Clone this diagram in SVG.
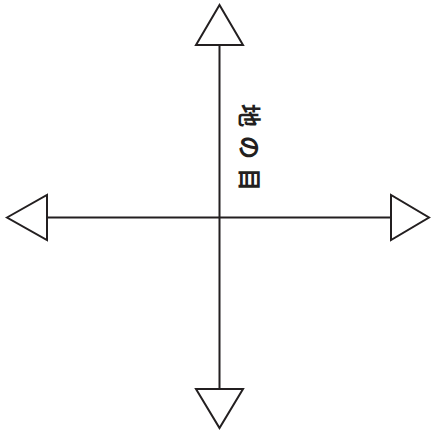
<svg xmlns="http://www.w3.org/2000/svg" width="431" height="430" viewBox="0 0 431 430">
<style>
.ln{stroke:#231f20;stroke-width:2;fill:none}
.ah{stroke:#231f20;stroke-width:2;fill:#fff;stroke-linejoin:miter}
.lbl{font-family:"Noto Sans CJK JP","Noto Sans CJK SC",sans-serif;font-size:23px;font-weight:700;fill:#231f20}
</style>
<rect width="431" height="430" fill="#fff"/>
<g id="connectors">
<line class="ln" x1="219.5" y1="45" x2="219.5" y2="389"/>
<line class="ln" x1="47" y1="217.5" x2="391" y2="217.5"/>
</g>
<g id="arrow-top"><polygon class="ah" points="219.5,5 196,45 243,45"/></g>
<g id="arrow-bottom"><polygon class="ah" points="196,389 243,389 219.5,428"/></g>
<g id="arrow-left"><polygon class="ah" points="7,217.5 47,195 47,240"/></g>
<g id="arrow-right"><polygon class="ah" points="391,195 391,240 429,217.5"/></g>
<g id="label"><text class="lbl" transform="translate(251,152) rotate(90)" text-anchor="middle" dominant-baseline="central" letter-spacing="9">地の目</text></g>
</svg>
